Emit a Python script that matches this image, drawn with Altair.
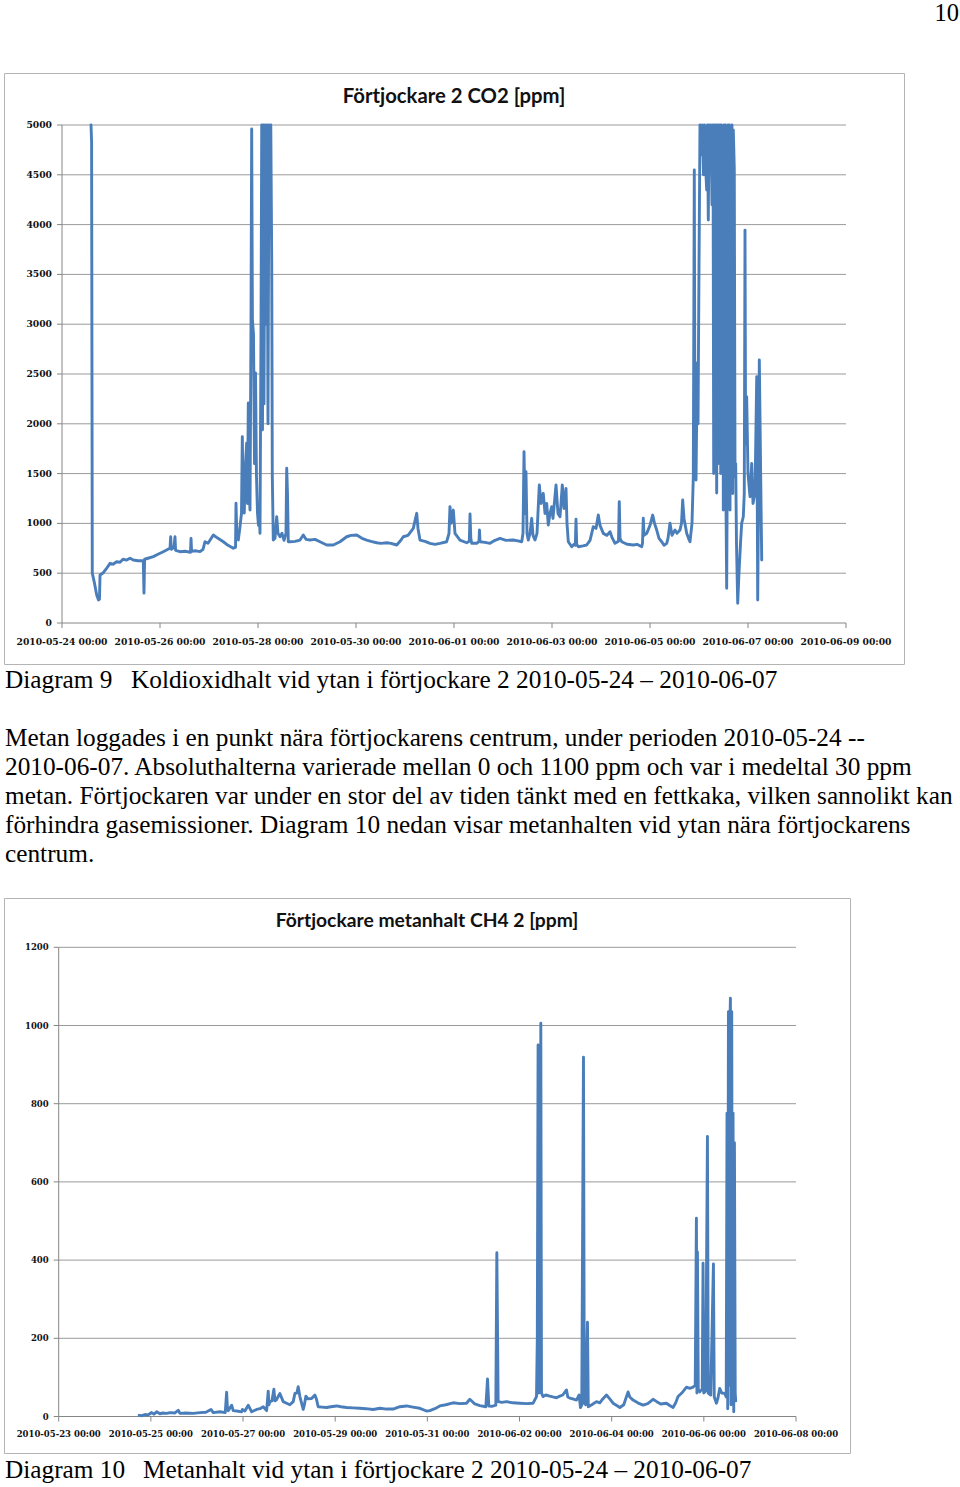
import altair as alt
import pandas as pd

# ---------------- data ----------------
# Diagram 9: CO2, days since 2010-05-24 00:00
co2_days = [0.592, 0.604, 0.612, 0.618, 0.663, 0.708, 0.745, 0.765, 0.776, 0.843, 0.898, 0.980, 1.041, 1.116,
            1.184, 1.245, 1.320, 1.388, 1.455, 1.551, 1.659, 1.673, 1.686, 1.755, 1.863, 1.959, 2.067, 2.143,
            2.204, 2.218, 2.231, 2.286, 2.306, 2.318, 2.408, 2.510, 2.622, 2.633, 2.645, 2.735, 2.816, 2.878,
            2.918, 2.980, 3.088, 3.184, 3.292, 3.388, 3.496, 3.541, 3.551, 3.567, 3.598, 3.633, 3.663, 3.680,
            3.694, 3.720, 3.745, 3.769, 3.786, 3.802, 3.822, 3.837, 3.857, 3.871, 3.886, 3.908, 3.929, 3.949,
            3.969, 3.990, 4.010, 4.027, 4.041, 4.061, 4.076, 4.092, 4.106, 4.122, 4.143, 4.163, 4.184, 4.204,
            4.224, 4.245, 4.261, 4.280, 4.292, 4.312, 4.347, 4.382, 4.408, 4.449, 4.490, 4.531, 4.571, 4.586,
            4.602, 4.618, 4.653, 4.755, 4.857, 4.924, 4.980, 5.061, 5.163, 5.265, 5.402, 5.537, 5.673, 5.810,
            5.898, 6.014, 6.122, 6.218, 6.306, 6.422, 6.510, 6.627, 6.714, 6.831, 6.898, 6.965, 7.061, 7.169,
            7.239, 7.265, 7.306, 7.408, 7.510, 7.612, 7.714, 7.851, 7.898, 7.918, 7.939, 7.986, 8.020, 8.122,
            8.259, 8.312, 8.327, 8.343, 8.361, 8.463, 8.510, 8.520, 8.531, 8.633, 8.735, 8.837, 8.939, 9.061,
            9.210, 9.306, 9.382, 9.408, 9.429, 9.449, 9.469, 9.490, 9.516, 9.551, 9.586, 9.612, 9.653, 9.694,
            9.741, 9.776, 9.822, 9.857, 9.892, 9.924, 9.959, 9.994, 10.020, 10.082, 10.122, 10.163, 10.184,
            10.210, 10.245, 10.286, 10.306, 10.333, 10.402, 10.449, 10.476, 10.490, 10.504, 10.537, 10.633,
            10.708, 10.776, 10.843, 10.898, 10.945, 10.980, 11.047, 11.122, 11.184, 11.224, 11.286, 11.357,
            11.373, 11.388, 11.422, 11.531, 11.659, 11.735, 11.831, 11.847, 11.863, 11.878, 11.933, 12.000,
            12.055, 12.092, 12.137, 12.184, 12.239, 12.286, 12.341, 12.367, 12.408, 12.449, 12.510, 12.551,
            12.612, 12.643, 12.667, 12.694, 12.749, 12.786, 12.816, 12.857, 12.884, 12.904, 12.918, 12.939,
            12.965, 12.980, 13.000, 13.020, 13.051, 13.071, 13.092, 13.112, 13.133, 13.157, 13.173, 13.190,
            13.204, 13.224, 13.245, 13.265, 13.286, 13.300, 13.312, 13.327, 13.341, 13.361, 13.373, 13.388,
            13.402, 13.414, 13.429, 13.443, 13.455, 13.469, 13.484, 13.496, 13.510, 13.524, 13.537, 13.551,
            13.565, 13.578, 13.592, 13.606, 13.618, 13.633, 13.647, 13.659, 13.673, 13.688, 13.700, 13.720,
            13.735, 13.749, 13.765, 13.790, 13.816, 13.847, 13.871, 13.904, 13.924, 13.939, 13.951, 13.973,
            14.000, 14.041, 14.076, 14.102, 14.143, 14.178, 14.198, 14.214, 14.231, 14.259, 14.280]
co2_ppm = [5000, 4830, 2380, 500, 400, 281, 231, 240, 482, 505, 540, 599, 590, 615,
           610, 640, 632, 650, 632, 625, 625, 300, 640, 650, 666, 690, 716, 735,
           750, 866, 740, 760, 866, 730, 716, 720, 710, 850, 720, 725, 716, 740,
           816, 800, 883, 850, 816, 780, 750, 760, 1202, 900, 833, 967, 1100, 1871,
           1300, 1104, 1600, 1807, 1200, 2209, 1300, 1134, 3000, 4960, 3040, 2900, 1600, 2510,
           1470, 1100, 980, 1100, 900, 2900, 5000, 1940, 5000, 2200, 5000, 3000, 5000, 2000,
           5000, 4000, 5000, 3640, 1470, 833, 850, 1067, 900, 866, 900, 830, 900, 1553,
           1300, 816, 816, 820, 833, 883, 840, 833, 840, 816, 783, 783, 816, 866,
           880, 883, 850, 833, 820, 806, 800, 806, 800, 783, 820, 866, 880, 950,
           1101, 950, 833, 820, 800, 790, 800, 816, 900, 1168, 1000, 1134, 900, 833,
           806, 820, 1094, 850, 800, 800, 820, 933, 816, 810, 800, 830, 850, 830,
           833, 825, 816, 900, 1720, 1100, 1519, 900, 833, 900, 1051, 880, 833, 900,
           1386, 1200, 1302, 1100, 1200, 984, 1100, 1168, 1050, 1386, 1100, 1067, 1200,
           1386, 1150, 1352, 1000, 816, 766, 790, 780, 1041, 790, 766, 775,
           783, 830, 967, 950, 1084, 980, 900, 880, 917, 860, 800, 820,
           1218, 850, 816, 790, 783, 790, 766, 800, 1051, 880, 900, 980,
           1084, 1000, 933, 850, 816, 780, 800, 850, 1001, 880, 933, 900,
           933, 1000, 1235, 1050, 900, 850, 816, 1000, 1469, 4548, 1600, 1436,
           2610, 2000, 3578, 5000, 4700, 5000, 4500, 5000, 4600, 4347, 5000, 4046,
           5000, 4700, 5000, 4200, 5000, 1500, 5000, 2000, 5000, 1305, 5000, 1600,
           5000, 2200, 5000, 1500, 5000, 1800, 4950, 1134, 5000, 2500, 5000, 1200,
           348, 1600, 5000, 1400, 5000, 1134, 4900, 1800, 5000, 1300, 4950, 4568,
           1469, 1600, 800, 198, 500, 800, 1001, 1067, 1300, 3945, 1800, 2272,
           1500, 1268, 1603, 1200, 1305, 2473, 231, 1200, 2640, 1469, 632]

# Diagram 10: CH4, days since 2010-05-23 00:00
ch4_days = [1.748, 1.807, 1.872, 1.937, 2.017, 2.067, 2.126, 2.197, 2.262, 2.343, 2.414, 2.523, 2.594, 2.631,
            2.761, 2.920, 3.065, 3.195, 3.304, 3.354, 3.499, 3.614, 3.644, 3.662, 3.679, 3.753, 3.787, 3.868,
            3.970, 3.987, 4.041, 4.113, 4.187, 4.295, 4.367, 4.438, 4.512, 4.547, 4.562, 4.584, 4.627, 4.670,
            4.692, 4.729, 4.757, 4.800, 4.872, 4.946, 5.017, 5.089, 5.126, 5.169, 5.197, 5.234, 5.306, 5.332,
            5.364, 5.408, 5.488, 5.560, 5.592, 5.631, 5.712, 5.813, 5.907, 6.030, 6.124, 6.247, 6.384, 6.536,
            6.666, 6.824, 6.970, 7.115, 7.258, 7.403, 7.549, 7.685, 7.837, 7.983, 8.054, 8.163, 8.271, 8.401,
            8.560, 8.705, 8.850, 8.922, 9.030, 9.139, 9.269, 9.306, 9.334, 9.399, 9.486, 9.508, 9.536, 9.616,
            9.718, 9.855, 10.007, 10.158, 10.295, 10.369, 10.386, 10.403, 10.419, 10.440, 10.451, 10.462,
            10.477, 10.512, 10.570, 10.657, 10.722, 10.803, 10.874, 10.939, 11.020, 11.048, 11.091, 11.156,
            11.236, 11.293, 11.323, 11.351, 11.388, 11.406, 11.438, 11.475, 11.492, 11.568, 11.670, 11.742,
            11.807, 11.887, 11.959, 12.030, 12.111, 12.176, 12.262, 12.356, 12.393, 12.464, 12.566, 12.681,
            12.783, 12.898, 12.978, 13.065, 13.189, 13.260, 13.332, 13.390, 13.440, 13.521, 13.623, 13.694,
            13.766, 13.813, 13.839, 13.850, 13.861, 13.879, 13.911, 13.965, 13.983, 13.998, 14.041, 14.078,
            14.096, 14.150, 14.208, 14.226, 14.273, 14.302, 14.345, 14.388, 14.453, 14.486, 14.503, 14.518,
            14.534, 14.547, 14.562, 14.577, 14.590, 14.605, 14.620, 14.634, 14.649, 14.664, 14.681, 14.692]
ch4_ppm = [3, 2, 5, 4, 10, 6, 12, 7, 9, 8, 10, 9, 16, 8,
           9, 8, 10, 11, 18, 10, 12, 10, 62, 20, 15, 29, 15, 14,
           12, 18, 14, 29, 12, 18, 20, 25, 15, 65, 30, 38, 40, 70,
           40, 43, 50, 59, 38, 34, 30, 38, 59, 60, 76, 51, 18, 30,
           52, 45, 46, 55, 45, 25, 24, 23, 25, 27, 25, 23, 22, 21,
           20, 18, 21, 19, 19, 25, 27, 24, 21, 14, 15, 20, 27, 30,
           35, 33, 34, 44, 32, 28, 25, 96, 27, 26, 29, 419, 38, 36,
           38, 35, 34, 33, 34, 51, 200, 950, 60, 800, 70, 1006,
           60, 51, 55, 52, 50, 48, 52, 55, 68, 50, 47, 45,
           42, 55, 23, 30, 919, 34, 30, 241, 25, 30, 38, 35,
           45, 55, 45, 34, 28, 23, 30, 63, 50, 42, 35, 29,
           33, 44, 38, 32, 34, 28, 23, 35, 51, 60, 75, 72,
           75, 80, 507, 60, 421, 70, 63, 70, 392, 60, 65, 716,
           60, 55, 390, 50, 34, 45, 72, 60, 59, 50, 776, 20,
           1035, 80, 980, 1070, 30, 1035, 50, 776, 12, 700, 60, 40]

co2_y_ticks = [0, 500, 1000, 1500, 2000, 2500, 3000, 3500, 4000, 4500, 5000]
co2_x_ticks = [0, 2, 4, 6, 8, 10, 12, 14, 16]
co2_x_labels = ["2010-05-24 00:00", "2010-05-26 00:00", "2010-05-28 00:00", "2010-05-30 00:00",
                "2010-06-01 00:00", "2010-06-03 00:00", "2010-06-05 00:00", "2010-06-07 00:00",
                "2010-06-09 00:00"]
ch4_y_ticks = [0, 200, 400, 600, 800, 1000, 1200]
ch4_x_ticks = [0, 2, 4, 6, 8, 10, 12, 14, 16]
ch4_x_labels = ["2010-05-23 00:00", "2010-05-25 00:00", "2010-05-27 00:00", "2010-05-29 00:00",
                "2010-05-31 00:00", "2010-06-02 00:00", "2010-06-04 00:00", "2010-06-06 00:00",
                "2010-06-08 00:00"]

title1 = "Förtjockare 2 CO2 [ppm]"
title2 = "Förtjockare metanhalt CH4 2 [ppm]"
caption9 = ["Diagram 9", "Koldioxidhalt vid ytan i förtjockare 2 2010-05-24 – 2010-06-07"]
caption10 = ["Diagram 10", "Metanhalt vid ytan i förtjockare 2 2010-05-24 – 2010-06-07"]
paragraph = [
    "Metan loggades i en punkt nära förtjockarens centrum, under perioden 2010-05-24 --",
    "2010-06-07. Absoluthalterna varierade mellan 0 och 1100 ppm och var i medeltal 30 ppm",
    "metan. Förtjockaren var under en stor del av tiden tänkt med en fettkaka, vilken sannolikt kan",
    "förhindra gasemissioner. Diagram 10 nedan visar metanhalten vid ytan nära förtjockarens",
    "centrum.",
]
page_no = "10"

LINE = "#4A7EBB"
GRID = "#9a9a9a"
AXIS = "#868686"
FRAME = "#b4b4b4"
SERIF = "Liberation Serif"
TICKFONT = "DejaVu Serif"
one = alt.Data(values=[{}])


def panel(days, vals, yticks, xticks, xlabels, xr, yr, ymax, title, title_xy, title_size, box,
          fsize, ylab_dx, xlab_dy):
    sx = alt.Scale(domain=[0, 16], range=xr, nice=False, zero=False)
    sy = alt.Scale(domain=[0, ymax], range=yr, nice=False, zero=False)
    series = pd.DataFrame({"d": days, "v": vals})
    yt = pd.DataFrame({"v": yticks})
    xt = pd.DataFrame({"d": xticks, "lab": xlabels})

    frame = alt.Chart(one).mark_rect(fill="white", stroke=FRAME, strokeWidth=1).encode(
        x=alt.value(box[0]), x2=alt.value(box[2]), y=alt.value(box[1]), y2=alt.value(box[3]))
    grid = alt.Chart(yt).transform_filter("datum.v > 0").mark_rule(color=GRID, strokeWidth=1).encode(
        y=alt.Y("v:Q", scale=sy, axis=None),
        x=alt.X(datum=0, scale=sx, axis=None), x2=alt.X2(datum=16))
    yaxis = alt.Chart(one).mark_rule(color=AXIS, strokeWidth=1).encode(
        x=alt.X(datum=0, scale=sx, axis=None), y=alt.Y(datum=0, scale=sy, axis=None), y2=alt.Y2(datum=ymax))
    xaxis = alt.Chart(one).mark_rule(color=AXIS, strokeWidth=1).encode(
        x=alt.X(datum=0, scale=sx, axis=None), x2=alt.X2(datum=16), y=alt.Y(datum=0, scale=sy, axis=None))
    yt_marks = alt.Chart(yt).mark_rule(color=AXIS, strokeWidth=1, x2Offset=-5).encode(
        y=alt.Y("v:Q", scale=sy, axis=None), x=alt.X(datum=0, scale=sx, axis=None), x2=alt.X2(datum=0))
    xt_marks = alt.Chart(xt).mark_rule(color=AXIS, strokeWidth=1, y2Offset=5).encode(
        x=alt.X("d:Q", scale=sx, axis=None), y=alt.Y(datum=0, scale=sy, axis=None), y2=alt.Y2(datum=0))
    ylabels = alt.Chart(yt).mark_text(align="right", baseline="middle", dx=ylab_dx, font=TICKFONT,
                                      fontSize=fsize, fontWeight="bold", color="#111111").encode(
        y=alt.Y("v:Q", scale=sy, axis=None), x=alt.X(datum=0, scale=sx, axis=None),
        text=alt.Text("v:Q", format="d"))
    xlabels_m = alt.Chart(xt).mark_text(align="center", baseline="middle", dy=xlab_dy, font=TICKFONT,
                                        fontSize=fsize, fontWeight="bold", color="#111111").encode(
        x=alt.X("d:Q", scale=sx, axis=None), y=alt.Y(datum=0, scale=sy, axis=None), text="lab:N")
    line = alt.Chart(series).mark_line(color=LINE, strokeWidth=2.9, strokeJoin="round",
                                       strokeCap="round").encode(
        x=alt.X("d:Q", scale=sx, axis=None), y=alt.Y("v:Q", scale=sy, axis=None))
    ttl = alt.Chart(one).mark_text(align="center", baseline="middle", font="Lato", fontWeight="bold",
                                   fontSize=title_size, color="#111111").encode(
        x=alt.value(title_xy[0]), y=alt.value(title_xy[1]), text=alt.value(title))
    return alt.layer(frame, grid, yaxis, xaxis, yt_marks, xt_marks, ylabels, xlabels_m, line, ttl)


c1 = panel(co2_days, co2_ppm, co2_y_ticks, co2_x_ticks, co2_x_labels, [62, 846], [623, 125], 5000,
           title1, (454, 97), 20.3, (4.5, 73.5, 904.5, 664.5), 9.2, -10, 19)
c2 = panel(ch4_days, ch4_ppm, ch4_y_ticks, ch4_x_ticks, ch4_x_labels, [58.7, 796], [1416.5, 947.3], 1200,
           title2, (427, 921), 19.3, (4.5, 898.5, 850.5, 1453.5), 8.5, -10, 17.5)


def txt(s, x, y, align="left", size=25.3):
    return alt.Chart(one).mark_text(align=align, baseline="alphabetic", font=SERIF, fontSize=size,
                                    color="#000000").encode(
        x=alt.value(x), y=alt.value(y), text=alt.value(s))


texts = [txt(page_no, 959, 21, align="right", size=24.5),
         txt(caption9[0], 5, 688), txt(caption9[1], 131, 688),
         txt(caption10[0], 5, 1478), txt(caption10[1], 143, 1478)]
for i, line_s in enumerate(paragraph):
    texts.append(txt(line_s, 5, 746 + 29 * i))

chart = alt.layer(c1, c2, *texts).resolve_scale(x="independent", y="independent").properties(
    width=960, height=1487, autosize=alt.AutoSizeParams(type="none"), padding=0,
    background="white").configure_view(stroke=None)

chart.save("out.html", embed_options={"renderer": "svg", "actions": False})
